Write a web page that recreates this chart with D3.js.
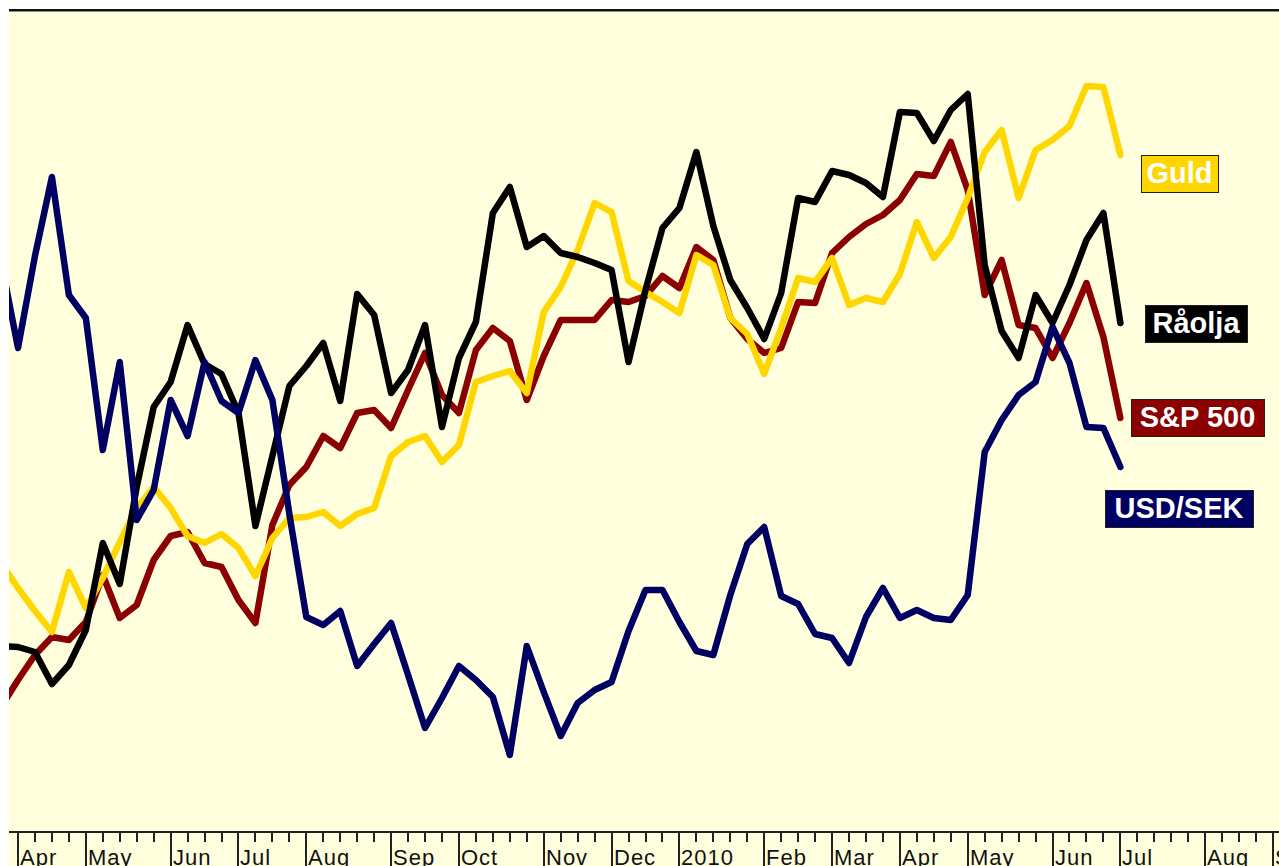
<!DOCTYPE html>
<html>
<head>
<meta charset="utf-8">
<script src="https://cdn.jsdelivr.net/npm/d3@7"></script>
<style>
  body { margin: 0; background: #fff; }
  svg { display: block; }
</style>
</head>
<body>
<svg id="chart" width="1279" height="866"></svg>
<script>
// weekly closes, indexed (no y axis in the original), first week is 2009-03-28
const firstWeek = new Date(2009, 2, 28)

const usdsek = [58.9, 50.2, 59.4, 67.3, 55.5, 53.2, 40.0, 48.8, 33.0, 36.0, 45.0, 41.4, 48.8, 44.9, 43.7, 49.0, 45.0,
  33.6, 23.3, 22.5, 23.9, 18.4, 20.6, 22.7, 17.5, 12.2, 15.2, 18.4, 17.0, 15.3, 9.5, 20.4, 15.8, 11.4, 14.7, 16.0, 16.8,
  21.9, 26.0, 26.0, 22.8, 19.9, 19.5, 25.5, 30.6, 32.3, 25.4, 24.6, 21.6, 21.2, 18.7, 23.3, 26.2, 23.2, 24.0, 23.2, 23.0,
  25.5, 39.8, 43.0, 45.5, 46.8, 52.3, 48.7, 42.3, 42.2, 38.3]

const raolja = [20.4, 20.3, 19.8, 16.6, 18.5, 22.0, 30.7, 26.6, 36.3, 44.3, 46.8, 52.5, 48.6, 47.6, 43.7, 32.4, 39.4,
  46.4, 48.4, 50.7, 44.9, 55.6, 53.5, 45.7, 48.0, 52.5, 42.3, 49.2, 52.8, 63.7, 66.3, 60.3, 61.4, 59.7, 59.3, 58.7, 58.0,
  48.8, 56.0, 62.2, 64.2, 69.8, 62.4, 57.0, 54.2, 51.1, 55.7, 65.2, 64.8, 67.9, 67.5, 66.7, 65.3, 73.8, 73.7, 70.9, 74.0,
  75.6, 58.5, 51.9, 49.2, 55.5, 52.7, 56.5, 61.0, 63.7, 52.7]

const sp500 = [14.3, 17.0, 19.5, 21.3, 21.0, 22.8, 27.5, 23.2, 24.5, 29.0, 31.4, 31.8, 28.7, 28.3, 25.0, 22.7, 32.5,
  36.5, 38.3, 41.4, 40.2, 43.7, 44.0, 42.2, 46.0, 49.7, 45.5, 43.7, 50.0, 52.2, 50.9, 45.0, 49.4, 53.0, 53.0, 53.0, 55.0,
  54.8, 55.4, 57.4, 56.2, 60.3, 59.0, 53.2, 51.1, 49.7, 50.2, 54.8, 54.7, 59.7, 61.3, 62.6, 63.5, 65.0, 67.6, 67.4, 70.8,
  66.0, 55.5, 59.0, 52.5, 52.2, 49.2, 52.7, 56.7, 51.3, 43.2]

const guld = [28.7, 26.2, 23.9, 21.8, 27.8, 24.2, 27.2, 30.8, 34.2, 36.3, 34.2, 31.4, 30.7, 31.6, 30.2, 27.4, 31.2,
  33.2, 33.3, 33.8, 32.4, 33.6, 34.2, 39.4, 40.8, 41.4, 38.8, 40.5, 46.8, 47.4, 47.9, 45.7, 53.8, 56.3, 60.0, 64.7, 63.8,
  56.9, 55.8, 54.8, 53.7, 59.5, 58.5, 53.2, 51.6, 47.6, 52.2, 57.2, 56.8, 59.2, 54.5, 55.2, 54.8, 57.6, 62.8, 59.2, 61.3,
  65.2, 69.8, 72.0, 65.2, 70.0, 71.0, 72.4, 76.4, 76.3, 69.5]

const seriesNames = ["S&P 500", "Guld", "Råolja", "USD/SEK"]
const seriesColors = ["#8b0000", "#ffd700", "#000000", "#000062"]
const seriesValues = [sp500, guld, raolja, usdsek]

const monthLabels = ["Apr", "May", "Jun", "Jul", "Aug", "Sep", "Oct", "Nov", "Dec", "2010",
  "Feb", "Mar", "Apr", "May", "Jun", "Jul", "Aug", "Sep"]

const W = 1279, H = 866
const plotLeft = 9, plotTop = 11, axisY = 832

const svg = d3.select('#chart')

const weeks = d3.timeSaturday.range(firstWeek, d3.timeSaturday.offset(firstWeek, usdsek.length))
const allTicks = d3.timeSaturday.range(firstWeek, new Date(2010, 8, 12))

const x = d3.scaleTime()
  .domain([new Date(2009, 3, 4), new Date(2010, 8, 4)])
  .range([18, 1273])
const y = d3.scaleLinear().domain([0, 84]).range([850, 10])

// pale background
svg.append('rect')
  .attr('x', plotLeft).attr('y', plotTop)
  .attr('width', W - plotLeft).attr('height', H - plotTop)
  .attr('fill', '#ffffde')

svg.append('clipPath').attr('id', 'plotclip')
  .append('rect')
  .attr('x', plotLeft).attr('y', plotTop)
  .attr('width', W - plotLeft).attr('height', axisY - plotTop)

const line = d3.line()
  .x((d, i) => x(weeks[i]))
  .y(d => y(d))

svg.append('g')
  .attr('clip-path', 'url(#plotclip)')
  .selectAll('path')
  .data(seriesValues)
  .enter()
  .append('path')
  .attr('d', d => line(d))
  .attr('fill', 'none')
  .attr('stroke', (d, i) => seriesColors[i])
  .attr('stroke-width', 6.5)
  .attr('stroke-linejoin', 'round')
  .attr('stroke-linecap', 'round')

// top border
svg.append('line')
  .attr('x1', plotLeft).attr('x2', W).attr('y1', 10).attr('y2', 10)
  .attr('stroke', '#111').attr('stroke-width', 2)
svg.append('line')
  .attr('x1', plotLeft).attr('x2', W).attr('y1', 11.5).attr('y2', 11.5)
  .attr('stroke', '#888').attr('stroke-width', 1)

// x axis: weekly ticks, long tick at first week of each month
const axisG = svg.append('g')
axisG.append('line')
  .attr('x1', plotLeft).attr('x2', W).attr('y1', axisY).attr('y2', axisY)
  .attr('stroke', '#222').attr('stroke-width', 2)

const visibleTicks = allTicks.filter(d => x(d) >= plotLeft)
axisG.selectAll('line.tick')
  .data(visibleTicks)
  .enter()
  .append('line')
  .classed('tick', true)
  .attr('x1', d => Math.round(x(d)))
  .attr('x2', d => Math.round(x(d)))
  .attr('y1', axisY)
  .attr('y2', d => d.getDate() <= 7 ? H : axisY + 10)
  .attr('stroke', '#222')
  .attr('stroke-width', 2)

const monthStarts = visibleTicks.filter(d => d.getDate() <= 7)
axisG.selectAll('text')
  .data(monthStarts)
  .enter()
  .append('text')
  .attr('x', d => Math.round(x(d)) + 2)
  .attr('y', 865)
  .attr('font-family', 'Liberation Sans, Arial, sans-serif')
  .attr('font-size', 22)
  .attr('letter-spacing', 1)
  .attr('fill', '#111')
  .text((d, i) => monthLabels[i])

// end labels
const labelBoxes = [
  { name: "S&P 500", x: 1131, y: 399, w: 133, h: 37 },
  { name: "Guld", x: 1141, y: 155, w: 77, h: 37 },
  { name: "Råolja", x: 1145, y: 305, w: 102, h: 37 },
  { name: "USD/SEK", x: 1105, y: 490, w: 148, h: 37 }
]

const labels = svg.selectAll('g.lbl')
  .data(labelBoxes)
  .enter()
  .append('g')
  .classed('lbl', true)

labels.append('rect')
  .attr('x', d => d.x + 0.5).attr('y', d => d.y + 0.5)
  .attr('width', d => d.w).attr('height', d => d.h)
  .attr('fill', (d, i) => seriesColors[i])
  .attr('stroke', '#222').attr('stroke-width', 1)

labels.append('text')
  .attr('x', d => d.x + d.w / 2)
  .attr('y', d => d.y + d.h / 2 + 9)
  .attr('text-anchor', 'middle')
  .attr('font-family', 'Liberation Sans, Arial, sans-serif')
  .attr('font-weight', 'bold')
  .attr('font-size', 29)
  .attr('fill', '#fff')
  .text(d => d.name)
</script>
</body>
</html>
